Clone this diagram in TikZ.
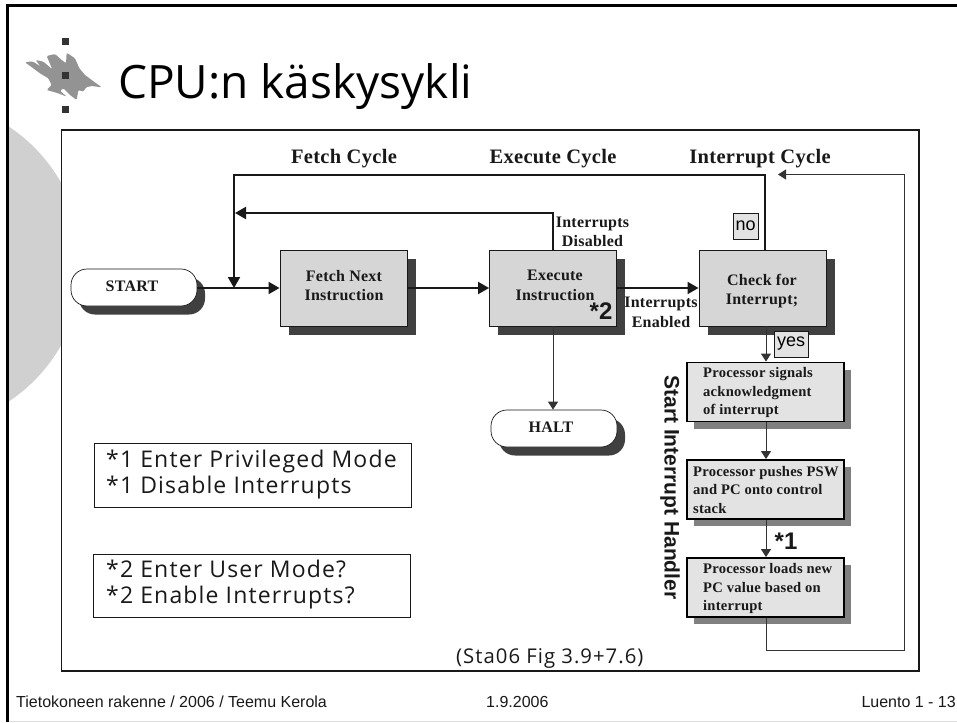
\documentclass[tikz,border=0pt]{standalone}
\usepackage{fontspec}
\usetikzlibrary{arrows.meta,shadows,calc}
\setmainfont{Liberation Sans}
\newfontfamily\fserif[LetterSpace=1.5]{Liberation Serif}
\newfontfamily\fsans{Liberation Sans}
\newfontfamily\ftitle{Open Sans}
\newfontfamily\fnote[LetterSpace=5]{Open Sans}
\definecolor{shd}{gray}{0.25}
\definecolor{shdb}{gray}{0.5}
\definecolor{boxa}{gray}{0.84}
\definecolor{boxb}{gray}{0.89}
\definecolor{ink}{gray}{0.1}
\definecolor{thinink}{gray}{0.2}
\tikzset{
  pic/.style={x=1pt,y=-1pt},
  frameline/.style={draw=ink,line width=1.3pt},
  stepbox/.style={draw=ink,line width=0.9pt,fill=boxa,inner sep=0pt,minimum width=127pt,minimum height=76pt,
    general shadow={shadow xshift=8.5pt,shadow yshift=-9pt,fill=shd}},
  procbox/.style={draw=black,line width=1.9pt,fill=boxb,inner sep=0pt,minimum width=157pt,minimum height=59pt,
    general shadow={shadow xshift=7pt,shadow yshift=-7pt,fill=shdb}},
  term/.style={draw=ink,line width=0.7pt,fill=white,rounded corners=16pt,inner sep=0pt,minimum width=126pt,minimum height=37pt,
    general shadow={shadow xshift=8pt,shadow yshift=-8.5pt,fill=shd}},
  notebox/.style={draw=ink,line width=1pt,fill=white,inner sep=0pt,minimum width=317pt,minimum height=64pt},
  tagbox/.style={draw=ink,line width=0.9pt,fill=boxb,inner sep=0pt,font=\fsans\fontsize{18}{20}\selectfont},
  lbl/.style={inner sep=0pt,font=\fserif\bfseries\fontsize{16}{19.5}\selectfont,align=center,text=ink},
  head/.style={inner sep=0pt,anchor=base,font=\fserif\bfseries\fontsize{20.5}{22}\selectfont,text=ink},
  ptxt/.style={inner sep=0pt,anchor=west,font=\fserif\bfseries\fontsize{14.6}{18.5}\selectfont,align=left,text=ink},
  notetxt/.style={inner sep=0pt,anchor=west,font=\fnote\fontsize{23}{26}\selectfont,align=left,text=ink},
  foot/.style={inner sep=0pt,anchor=base,font=\fsans\fontsize{16}{18}\selectfont,text=ink},
  star/.style={inner sep=0pt,font=\fsans\bfseries\fontsize{24}{26}\selectfont,text=ink},
  flow/.style={draw=ink,line width=2pt,-{Triangle[length=11pt,width=12pt]}},
  flowplain/.style={draw=ink,line width=2pt},
  thin/.style={draw=thinink,line width=1pt,-{Triangle[length=8pt,width=10pt]}},
  dotsq/.style={fill=shd!80!black,inner sep=0pt,minimum size=7pt},
}
\begin{document}
\begin{tikzpicture}[pic]
\useasboundingbox (0,0) rectangle (957,722);
\fill[white] (0,0) rectangle (957,722);
% background disc
\begin{scope}
\clip (8,0) rectangle (62,722);
\fill[gray!37] (-82.5,264) circle[radius=165];
\end{scope}
% slide frame
\draw[black,line width=2.6pt] (957,5.5) -- (7.5,5.5) -- (7.5,722);
\draw[gray!25,line width=0.9pt] (9,721.5) -- (957,721.5);
% logo
\begin{scope}[shift={(20,30)},x=0.3333pt,y=-0.3333pt]
\fill[gray!85,rounded corners=1.2pt] (15,97) -- (37,94) -- (52,103) -- (62,110) -- (47,90) -- (70,95) -- (97,118) -- (80,78) -- (105,72) -- (125,90) -- (138,100) -- (140,68) -- (165,85) -- (178,115) -- (195,135) -- (215,150) -- (245,172) -- (215,168) -- (198,172) -- (190,185) -- (175,180) -- (170,210) -- (150,195) -- (130,175) -- (120,182) -- (140,200) -- (115,190) -- (80,180) -- (95,165) -- (85,145) -- (60,130) -- (40,115) -- cycle;
\end{scope}
\node[dotsq] (sqa) at (65.5,42) {};
\node[dotsq] (sqb) at (65.5,76) {};
\node[dotsq] (sqc) at (65.5,109.5) {};
\node[inner sep=0pt,anchor=base west,font=\ftitle\fontsize{46}{50}\selectfont] (title) at (118,99) {CPU:n käskysykli};
% figure frame
\draw[frameline,fill=white] (61.5,130) rectangle (919,671);
% nodes
\node[term] (start) at (134,287.5) {};
\node[lbl] (startt) at (132,286.5) {START};
\node[stepbox] (fetch) at (343.5,288) {};
\node[lbl] (fetcht) at (344,285.5) {Fetch Next\\Instruction};
\node[stepbox] (exec) at (553,288) {};
\node[lbl] (exect) at (555,285.5) {Execute\\Instruction};
\node[stepbox] (check) at (762.5,288) {};
\node[lbl] (checkt) at (762,291) {Check for\\Interrupt;};
\node[term] (halt) at (554,428.5) {};
\node[lbl] (haltt) at (551,427.5) {HALT};
\node[procbox] (pa) at (765.5,392) {};
\node[ptxt] (pat) at (703,392.5) {Processor signals\\acknowledgment\\of interrupt};
\node[procbox] (pb) at (765.5,489.5) {};
\node[ptxt] (pbt) at (693,490) {Processor pushes PSW\\and PC onto control\\stack};
\node[procbox] (pc) at (765.5,587.5) {};
\node[ptxt] (pct) at (703,588.5) {Processor loads new\\PC value based on\\interrupt};
\coordinate (merge) at (234,288);
\coordinate (bar) at (235,213);
\coordinate (loop) at (778,174.5);
% connectors
\draw[flowplain] (start.east |- merge) -- (merge);
\draw[flow] (merge) -- (fetch.west);
\draw[flow] (fetch.east) -- (exec.west);
\draw[flow] (exec.east) -- (check.west);
\draw[flow] ([xshift=2.5pt]check.north) |- (234,175) -- (merge);
\draw[flow] (exec.north) |- (bar);
\draw[thin] (exec.south) -- (halt.north -| exec.south);
\draw[thin] ([xshift=3.5pt]check.south) -- (pa.north -| 766,0);
\draw[thin] (pa.south -| 766,0) -- (pb.north -| 766,0);
\draw[thin] (pb.south -| 766,0) -- (pc.north -| 766,0);
\draw[thin] (pc.south -| 766,0) |- (904,650) |- (loop);
% labels
\node[head] (cyca) at (344,163.5) {Fetch Cycle};
\node[head] (cycb) at (553,163.5) {Execute Cycle};
\node[head] (cycc) at (760,163.5) {Interrupt Cycle};
\node[lbl] (idis) at (592.5,232) {Interrupts\\Disabled};
\node[lbl] (ienb) at (661,312.5) {Interrupts\\Enabled};
\node[tagbox,minimum width=25pt,minimum height=26pt] (no) at (745.5,226) {no};
\node[tagbox,minimum width=34pt,minimum height=26pt] (yes) at (791,344) {yes};
\node[star] (stb) at (601,311) {*2};
\node[star] (sta) at (786,541) {*1};
\node[inner sep=0pt,rotate=-90,font=\fsans\bfseries\fontsize{21}{23}\selectfont,text=ink] (side) at (670,487.5) {Start Interrupt Handler};
% notes
\node[notebox] (noa) at (252.5,475) {};
\node[notetxt] (noat) at (106,475) {*1 Enter Privileged Mode\\*1 Disable Interrupts};
\node[notebox,minimum height=63pt] (nob) at (252,585.5) {};
\node[notetxt] (nobt) at (106,585) {*2 Enter User Mode?\\*2 Enable Interrupts?};
\node[inner sep=0pt,anchor=base west,font=\fnote\fontsize{20.3}{22}\selectfont,text=ink] (src) at (456,663) {(Sta06 Fig 3.9+7.6)};
% footer
\node[foot,anchor=base west] (fa) at (16,707) {Tietokoneen rakenne / 2006 / Teemu Kerola};
\node[foot,anchor=base west] (fb) at (486,707) {1.9.2006};
\node[foot,anchor=base east] (fc) at (956,707) {Luento 1 - 13};
\end{tikzpicture}
\end{document}
